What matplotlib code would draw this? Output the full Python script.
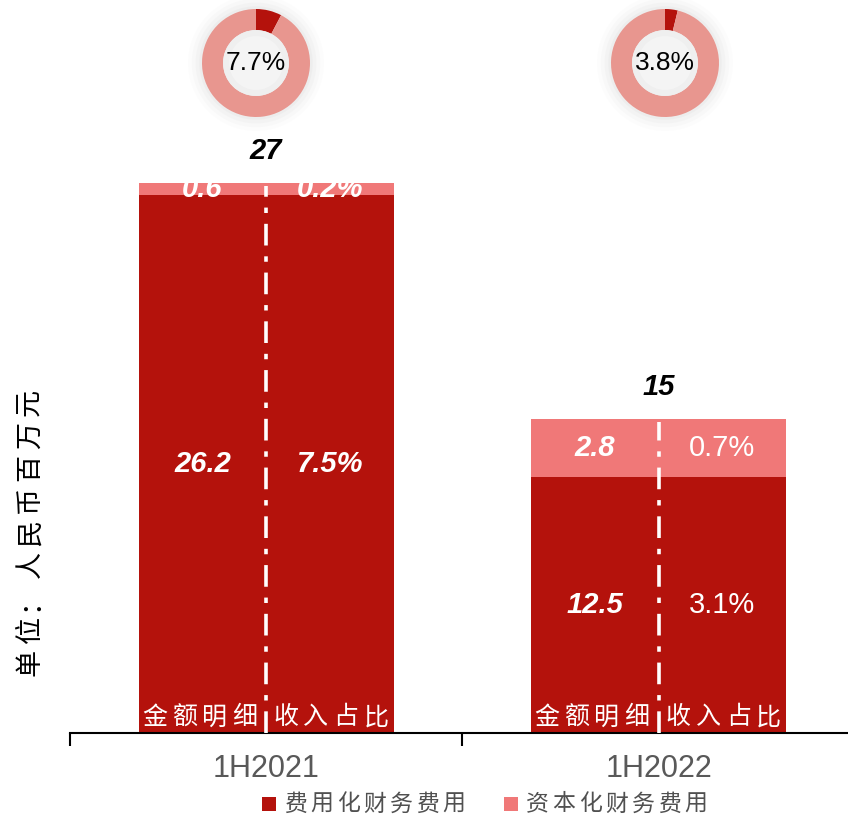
import matplotlib
matplotlib.use("Agg")
import matplotlib.pyplot as plt
from matplotlib.patches import Circle, Rectangle

plt.rcParams['font.family'] = ['Liberation Sans', 'Noto Sans CJK SC', 'DejaVu Sans']

# ---- data ----
categories = ['1H2021', '1H2022']
expensed = [26.2, 12.5]          # 费用化财务费用
capitalized = [0.6, 2.8]         # 资本化财务费用
totals_label = ['27', '15']
expensed_pct = ['7.5%', '3.1%']
capitalized_pct = ['0.2%', '0.7%']
capitalized_share = [7.7, 3.8]   # donut: capitalised share of total
legend_labels = ['费用化财务费用', '资本化财务费用']
ylabel = '单位：人民币百万元'
sub_left = '金额明细'
sub_right = '收入占比'

DARK = '#B4120C'
PINK = '#F07878'
RING = '#E8968F'
CJK = ['Noto Sans CJK SC']

W, H = 848, 817
fig = plt.figure(figsize=(W / 100, H / 100), dpi=100)


def spaced_text(text, cx, cy, pitch, size, color, vertical=False, zorder=5, ax=None):
    """Draw CJK text with letter spacing (pitch in pixels)."""
    n = len(text)
    for k, ch in enumerate(text):
        off = (k - (n - 1) / 2) * pitch
        if ax is not None:
            ax.annotate(ch, (cx, cy), xytext=(off * 0.72, 0), textcoords='offset points',
                        ha='center', va='center', fontsize=size, color=color,
                        family=CJK, zorder=zorder)
        elif vertical:
            fig.text(cx / W, 1 - (cy - off) / H, ch, rotation=90, ha='center', va='center',
                     fontsize=size, color=color, family=CJK)
        else:
            fig.text((cx + off) / W, 1 - cy / H, ch, ha='center', va='center',
                     fontsize=size, color=color, family=CJK)


# main axes
ax = fig.add_axes([70 / W, (H - 733) / H, (W - 70) / W, (733 - 140) / H])
x = list(range(len(categories)))
bw = 0.65
ax.bar(x, expensed, width=bw, color=DARK, zorder=2)
ax.bar(x, capitalized, width=bw, bottom=expensed, color=PINK, zorder=2)
ax.set_xlim(-0.5, 1.483)
ax.set_ylim(0, 28.9)

ppu = 593 / 28.9  # pixels per y unit
for i in x:
    tot = expensed[i] + capitalized[i]
    ax.vlines(i, 0, tot - 0.15, colors='white', linewidth=2.6,
              linestyles=(0, (6, 3, 1.5, 3)), zorder=3)
    ax.annotate(totals_label[i], (i, tot), xytext=(0, 23), textcoords='offset points',
                ha='center', va='center', fontsize=21, fontweight='bold',
                fontstyle='italic', color='black')
    ax.text(i - bw / 4, expensed[i] / 2, f'{expensed[i]:.1f}', ha='center', va='center',
            fontsize=21, fontweight='bold', fontstyle='italic', color='white', zorder=4)
    ax.text(i - bw / 4, expensed[i] + capitalized[i] / 2, f'{capitalized[i]:.1f}',
            ha='center', va='center', fontsize=21, fontweight='bold',
            fontstyle='italic', color='white', zorder=4)
    if i == 0:
        kw = dict(fontweight='bold', fontstyle='italic')
    else:
        kw = dict(fontweight='normal', fontstyle='normal')
    ax.text(i + bw / 4, expensed[i] / 2, expensed_pct[i], ha='center', va='center',
            fontsize=21, color='white', zorder=4, **kw)
    ax.text(i + bw / 4, expensed[i] + capitalized[i] / 2, capitalized_pct[i],
            ha='center', va='center', fontsize=21, color='white', zorder=4, **kw)
    yb = 15.5 / ppu
    spaced_text(sub_left, i - 0.17, yb, 30, 18, 'white', ax=ax)
    spaced_text(sub_right, i + 0.165, yb, 30, 18, 'white', ax=ax)

for s in ['top', 'right', 'left']:
    ax.spines[s].set_visible(False)
ax.spines['bottom'].set_linewidth(1.5)
ax.set_yticks([])
ax.set_xticks(x)
ax.set_xticklabels(categories, fontsize=22, color='#595959')
ax.tick_params(axis='x', which='major', length=0, pad=15)
ax.set_xticks([-0.5, 0.5], minor=True)
ax.tick_params(axis='x', which='minor', length=9, width=1.5, direction='out')

# y label (rotated, letter-spaced)
spaced_text(ylabel, 30, 532.5, 32.4, 19.5, 'black', vertical=True)

# donuts
centers = [(256, 63), (665, 63)]
R = 54
for (cx, cy), share in zip(centers, capitalized_share):
    half = 1.3 * R
    dax = fig.add_axes([(cx - half) / W, (H - cy - half) / H, 2 * half / W, 2 * half / H])
    dax.axis('off')
    for r, a in [(1.26, 0.025), (1.19, 0.035), (1.12, 0.045), (1.05, 0.06)]:
        dax.add_patch(Circle((0, 0), r, color='#9a9a9a', alpha=a, lw=0))
    dax.pie([share, 100 - share], colors=[DARK, RING], startangle=90, counterclock=False,
            radius=1.0, wedgeprops=dict(width=0.39, linewidth=0))
    dax.add_patch(Circle((0, 0), 0.61, color='#EFEFEF', lw=0, zorder=3))
    dax.add_patch(Circle((0, 0), 0.50, color='#F4F4F4', lw=0, zorder=3))
    dax.text(0, 0, f'{share:.1f}%', ha='center', va='center', fontsize=19,
             color='black', zorder=5)
    dax.set_aspect('equal')
    dax.set_xlim(-1.3, 1.3)
    dax.set_ylim(-1.3, 1.3)

# legend (manual, letter-spaced like the reference)
leg_colors = [DARK, PINK]
leg_square_cx = [269, 511]
leg_cy = 804
for col, sx, lab in zip(leg_colors, leg_square_cx, legend_labels):
    fig.patches.append(Rectangle(((sx - 7) / W, 1 - (leg_cy + 7) / H), 14 / W, 14 / H,
                                 transform=fig.transFigure, color=col, lw=0))
    n = len(lab)
    first = sx + 26.5
    spaced_text(lab, first + (n - 1) / 2 * 26.4, leg_cy, 26.4, 16.5, '#505050')

fig.savefig('out.png', dpi=100)
